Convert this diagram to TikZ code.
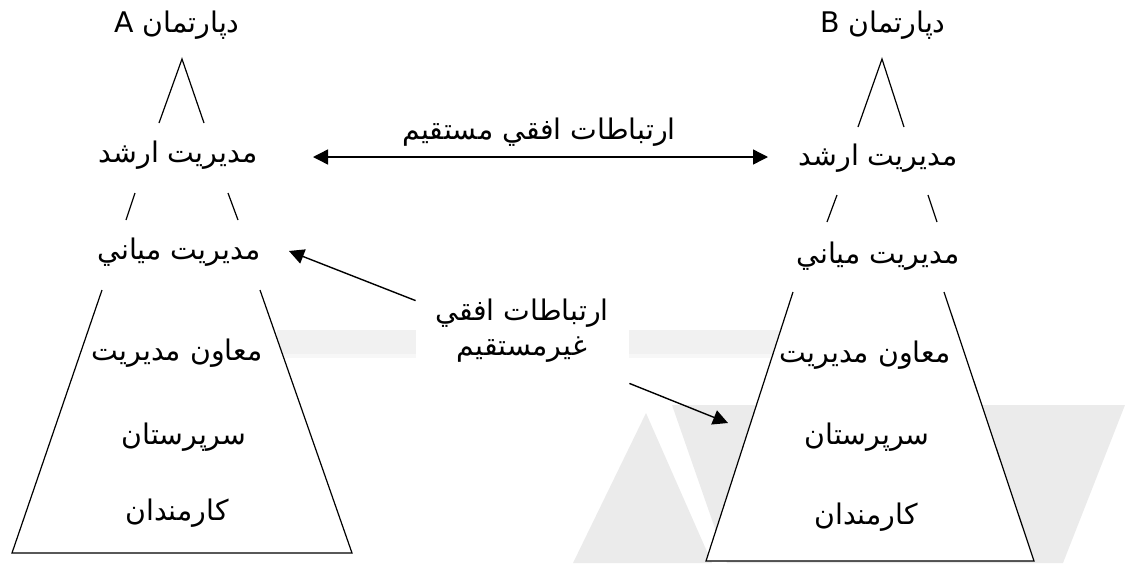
\documentclass[tikz,border=0pt]{standalone}
\usepackage{fontspec}
\usepackage{tikz}
\usetikzlibrary{arrows.meta}
\TeXXeTstate=1
\newfontfamily\arabicfont[Script=Arabic]{DejaVu Sans}
\newcommand{\fatext}[1]{\beginR #1\endR}
\tikzset{
    level/.style={font=\arabicfont\fontsize{14.2}{17.5}\selectfont, inner sep=1pt},
    link/.style={line width=0.7pt, -{Triangle[length=7.5pt,width=7.5pt]}},
    twoway/.style={line width=0.7pt, {Triangle[length=7.5pt,width=7.5pt]}-{Triangle[length=7.5pt,width=7.5pt]}},
    pyramid/.style={line width=0.6pt, fill=white},
    stroke/.style={line width=0.6pt}
}

\begin{document}
\begin{tikzpicture}[x=0.5pt,y=-0.5pt]
        \useasboundingbox (0,0) rectangle (1125,563);
        % Draw background marks
        \fill[gray!11] (277,330) rectangle (800,354);
        \fill[gray!6] (277,354) rectangle (800,358);
        \fill[gray!16] (646,413) -- (712,563) -- (573,563) -- cycle;
        \fill[gray!16] (672,405) -- (1125,405) -- (1063,563) -- (727,563) -- cycle;

        % Draw lower pyramids
        \draw[pyramid] (102,290) -- (12,553) -- (352,553) -- (260,290);
        \draw[pyramid] (793,292) -- (706,561) -- (1034,561) -- (944,292);

        % Department A
        \node[level] (depA) at (177,25) {\fatext{دپارتمان A}};
        \node[level] (senA) at (178,155) {\fatext{مديريت ارشد}};
        \node[level] (midA) at (179,252) {\fatext{مديريت مياني}};
        \node[level] (asstA) at (177,353) {\fatext{معاون مديريت}};
        \node[level] (supA) at (184,437) {\fatext{سرپرستان}};
        \node[level] (staffA) at (177,513) {\fatext{کارمندان}};
        \draw[stroke] (159,123) -- (182,59) -- (204,123);
        \draw[stroke] (135,193) -- (126,220);
        \draw[stroke] (228,193) -- (238,220);

        % Department B
        \node[level] (depB) at (883,25) {\fatext{دپارتمان B}};
        \node[level] (senB) at (878,158) {\fatext{مديريت ارشد}};
        \node[level] (midB) at (878,256) {\fatext{مديريت مياني}};
        \node[level] (asstB) at (865,355) {\fatext{معاون مديريت}};
        \node[level] (supB) at (867,437) {\fatext{سرپرستان}};
        \node[level] (staffB) at (866,517) {\fatext{کارمندان}};
        \draw[stroke] (858,127) -- (882,59) -- (904,127);
        \draw[stroke] (837,195) -- (827,222);
        \draw[stroke] (928,195) -- (937,222);

        % Direct horizontal link
        \node[level] (direct) at (539,132) {\fatext{ارتباطات افقي مستقيم}};
        \coordinate (dirA) at (313,157);
        \coordinate (dirB) at (768,157);
        \draw[twoway] (dirA) -- (dirB);

        % Indirect horizontal link
        \node[fill=white, minimum width=106.5pt, minimum height=41pt, inner sep=0pt] (indbox) at (522.5,342) {};
        \node[level, align=center] (indirect) at (522,331) {\fatext{ارتباطات افقي}\\\fatext{غيرمستقيم}};
        \coordinate (tipA) at (289,251);
        \coordinate (tipB) at (728,423);
        \draw[link] (indbox.north west) -- (tipA);
        \draw[link] (indbox.south east) -- (tipB);
    \end{tikzpicture}
\end{document}
